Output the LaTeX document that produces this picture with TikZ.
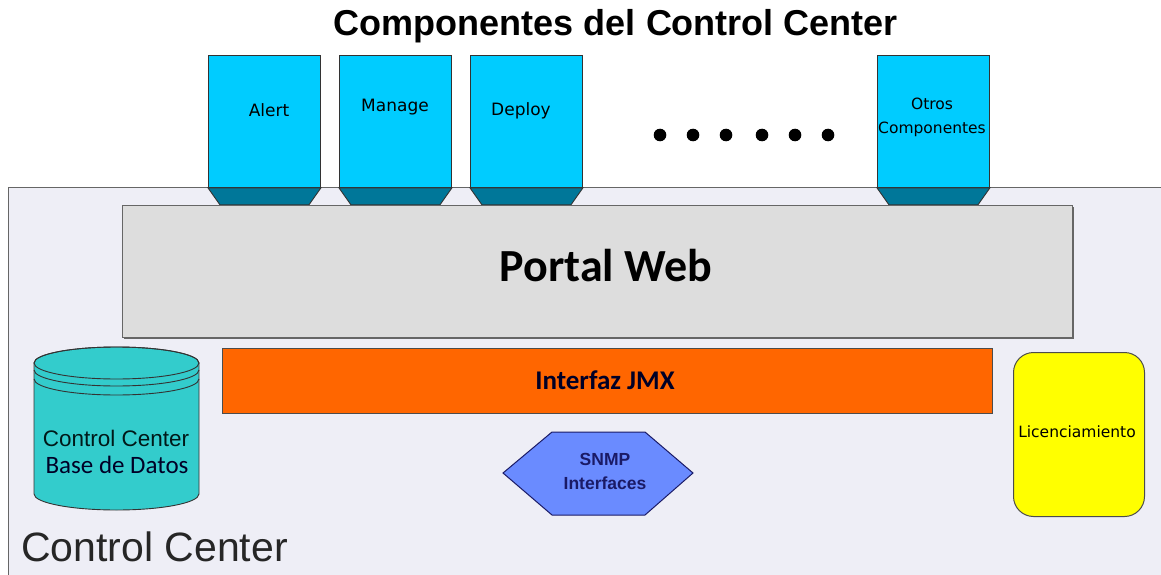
\documentclass[tikz,border=0pt]{standalone}
\usepackage{fontspec}
\setmainfont{Liberation Sans}
\newfontfamily\calfont{Carlito}
\newfontfamily\dvsfont{DejaVu Sans}
\usetikzlibrary{shadows,calc}
\definecolor{cyanbox}{HTML}{00CCFF}
\definecolor{tealbase}{HTML}{007799}
\definecolor{outerbg}{HTML}{EEEEF6}
\definecolor{portalbg}{HTML}{DDDDDD}
\definecolor{jmx}{HTML}{FF6600}
\definecolor{dbcol}{HTML}{33CCCC}
\definecolor{hexcol}{HTML}{6A8BFF}
\definecolor{hextext}{HTML}{1A1A66}
\definecolor{edgegray}{HTML}{666666}
\definecolor{licyellow}{HTML}{FFFF00}
\tikzset{
  compbox/.style={draw=black!80, line width=0.9pt, fill=cyanbox, minimum width=112pt, minimum height=132pt, inner sep=0pt},
  compbase/.style={draw=black!80, line width=0.9pt, fill=tealbase},
  complabel/.style={font=\dvsfont\fontsize{17}{20}\selectfont, inner sep=0pt, align=center},
  dotmark/.style={fill=black, draw=none},
  dbline/.style={draw=black!80, line width=0.9pt}
}
\begin{document}
\begin{tikzpicture}[x=1pt,y=-1pt]
\useasboundingbox (0,0) rectangle (1161,575);
\fill[white] (0,0) rectangle (1161,575);
% outer Control Center area
\node[draw=edgegray, line width=1.2pt, fill=outerbg, anchor=north west, minimum width=1200pt, minimum height=420pt, inner sep=0pt] (outer) at (8,187) {};
% title
\node[font=\bfseries\fontsize{36}{40}\selectfont, inner sep=0pt] (title) at (616,26) {Componentes del Control Center};
% component boxes
\node[compbox, anchor=north west] (alert) at (208,55) {};
\node[compbox, anchor=north west] (manage) at (339,55) {};
\node[compbox, anchor=north west] (deploy) at (470,55) {};
\node[compbox, anchor=north west] (otros) at (877,55) {};
\foreach \b in {alert,manage,deploy,otros}{
  \draw[compbase] (\b.south west) -- ++(12,17) -- ($(\b.south east)+(-12,17)$) -- (\b.south east) -- cycle;
}
\node[complabel] (alertT) at (269,110) {Alert};
\node[complabel] (manageT) at (395,107) {Manage};
\node[complabel] (deployT) at (521,111) {Deploy};
\node[complabel, font=\dvsfont\fontsize{15.5}{24}\selectfont] (otrosT) at (932,117) {Otros\\Componentes};
% dots
\foreach \xx/\nm in {660/d1,693/d2,726/d3,762/d4,795/d5,828/d6}{
  \fill[dotmark] (\xx,135) circle (6.3);
  \coordinate (\nm) at (\xx,135);
}
% portal web
\node[draw=edgegray, line width=1.3pt, fill=portalbg, anchor=north west, minimum width=950pt, minimum height=132pt, inner sep=0pt,
  drop shadow={shadow xshift=1.5pt, shadow yshift=-1.5pt, opacity=1, fill=black!60}] (portal) at (122,205) {};
\node[font=\calfont\bfseries\fontsize{46}{50}\selectfont, inner sep=0pt] (portalT) at (606,266) {Portal Web};
% JMX
\node[draw=black!70, line width=1pt, fill=jmx, anchor=north west, minimum width=770pt, minimum height=65pt, inner sep=0pt] (jmxbox) at (222,348) {};
\node[font=\calfont\bfseries\fontsize{27}{30}\selectfont, text=black!85!blue, inner sep=0pt] (jmxT) at (605,380) {Interfaz JMX};
% database cylinder
\coordinate (dbtop) at (116.5,363);
\coordinate (dbbot) at (116.5,494);
\draw[fill=dbcol, dbline]
  (34,363) -- (34,494) arc[start angle=180, end angle=0, x radius=82.5, y radius=16] -- (199,363)
  arc[start angle=0, end angle=-180, x radius=82.5, y radius=16] -- cycle;
\draw[dbline] (dbtop) ellipse[x radius=82.5, y radius=16];
\draw[dbline] (34,370) arc[start angle=180, end angle=0, x radius=82.5, y radius=16];
\draw[dbline] (34,379) arc[start angle=180, end angle=0, x radius=82.5, y radius=16];
\node[font=\fontsize{22.5}{24}\selectfont, text=black!80!teal, inner sep=0pt] (dbT1) at (116,438) {Control Center};
\node[font=\calfont\fontsize{25}{26}\selectfont, text=black!85!blue, inner sep=0pt] (dbT2) at (117,465) {Base de Datos};
% SNMP hexagon
\draw[fill=hexcol, draw=hextext, line width=1pt] (503,473) -- (552,432) -- (645,432) -- (693,473) -- (645,515) -- (552,515) -- cycle;
\node[font=\bfseries\fontsize{17.5}{24}\selectfont, text=hextext, align=center, inner sep=0pt] (snmp) at (605,471) {SNMP\\Interfaces};
% Licenciamiento
\node[draw=black!70, line width=1pt, fill=licyellow, rounded corners=20pt, anchor=north west, minimum width=131pt, minimum height=164pt, inner sep=0pt] (lic) at (1013,352) {};
\node[font=\dvsfont\fontsize{15.5}{18}\selectfont, inner sep=0pt] (licT) at (1077,432) {Licenciamiento};
% bottom label
\node[font=\fontsize{41}{44}\selectfont, anchor=west, inner sep=0pt, text=black!85] (cc) at (21,547) {Control Center};
\end{tikzpicture}
\end{document}
